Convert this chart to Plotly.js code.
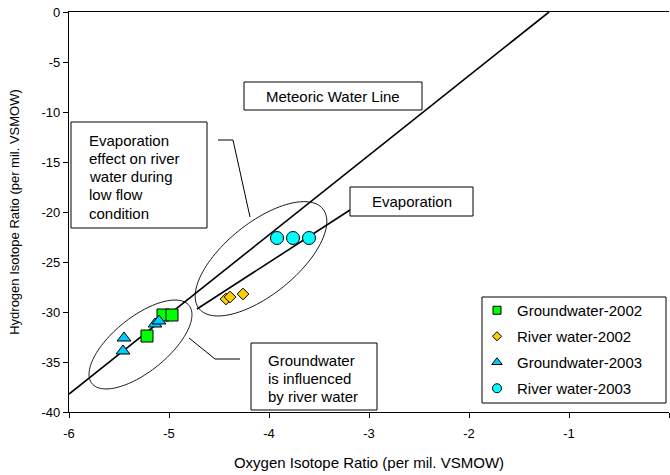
<!DOCTYPE html>
<html><head><meta charset="utf-8">
<script src="https://cdn.plot.ly/plotly-3.0.1.min.js"></script>
<style>html,body{margin:0;padding:0;background:#fff}#chart{width:670px;height:475px}</style>
</head><body><div id="chart"></div>
<script>
// ---- data ----
const gw2002X = [-5.06, -4.97, -5.22];
const gw2002Y = [-30.3, -30.3, -32.4];
const rw2002X = [-4.43, -4.39, -4.26];
const rw2002Y = [-28.7, -28.5, -28.2];
const gw2003X = [-5.46, -5.45, -5.14, -5.10];
const gw2003Y = [-33.9, -32.6, -31.2, -30.9];
const rw2003X = [-3.92, -3.76, -3.60];
const rw2003Y = [-22.6, -22.6, -22.6];
const mwlX = [-6, -1.2];
const mwlY = [-38.2, 0];
const evapX = [-4.72, -3.19];
const evapY = [-29.7, -19.8];
const seriesNames = ['Groundwater-2002', 'River water-2002', 'Groundwater-2003', 'River water-2003'];
const xTickVals = [-6, -5, -4, -3, -2, -1, 0];
const xTickText = ['-6', '-5', '-4', '-3', '-2', '-1', '0'];
const yTickVals = [-40, -35, -30, -25, -20, -15, -10, -5, 0];
const yTickText = ['-40', '-35', '-30', '-25', '-20', '-15', '-10', '-5', '0'];
const xTitle = 'Oxygen Isotope Ratio (per mil. VSMOW)';
const yTitle = 'Hydrogen Isotope Ratio (per mil. VSMOW)';
const mwlLabel = ['Meteoric Water Line'];
const evapLabel = ['Evaporation'];
const effectLabel = ['Evaporation', 'effect on river', 'water during', 'low flow', 'condition'];
const gwLabel = ['Groundwater', 'is influenced', 'by river water'];

// ---- layout helpers (pixel -> data) ----
const L = 69, T = 12, PW = 600, PH = 400;
const X = p => -6 + (p - L) / (PW / 6);
const Y = p => -(p - T) / (PH / 40);
const FONT = 'Liberation Sans, Arial, sans-serif';
const colors = ['#00FF00', '#FFCC00', '#00CCFF', '#00FFFF'];
const symbols = ['square', 'diamond', 'triangle-up', 'circle'];
const sizes = [12, 9, 12, 13];
const legSizes = [8, 7, 9, 9];

const xs = [gw2002X, rw2002X, gw2003X, rw2003X];
const ys = [gw2002Y, rw2002Y, gw2003Y, rw2003Y];

const traces = [
  {x: mwlX, y: mwlY, mode: 'lines', line: {color: '#000', width: 1.6}, showlegend: false, hoverinfo: 'skip'},
  {x: evapX, y: evapY, mode: 'lines', line: {color: '#000', width: 1.6}, showlegend: false, hoverinfo: 'skip'}
];
seriesNames.forEach((n, i) => {
  traces.push({x: xs[i], y: ys[i], mode: 'markers', name: n, showlegend: false,
    marker: {symbol: symbols[i], color: colors[i], size: sizes[i], line: {color: '#000', width: 1}}});
});
seriesNames.forEach((n, i) => {
  traces.push({x: [null], y: [null], mode: 'markers', name: n, legendgroup: 'g' + i,
    marker: {symbol: symbols[i], color: colors[i], size: legSizes[i], line: {color: '#000', width: 1}}});
});

function ellipsePath(cx, cy, a, b, deg) {
  const th = deg * Math.PI / 180;
  let s = '';
  for (let k = 0; k <= 120; k++) {
    const t = 2 * Math.PI * k / 120;
    const px = cx + a * Math.cos(t) * Math.cos(th) - b * Math.sin(t) * Math.sin(th);
    const py = cy - (a * Math.cos(t) * Math.sin(th) + b * Math.sin(t) * Math.cos(th));
    s += (k === 0 ? 'M' : 'L') + X(px).toFixed(4) + ',' + Y(py).toFixed(4);
  }
  return s + 'Z';
}
function rect(x0, y0, x1, y1) {
  return {type: 'rect', xref: 'x', yref: 'y', x0: X(x0), x1: X(x1), y0: Y(y0), y1: Y(y1),
    line: {color: '#000', width: 1}, fillcolor: '#fff', layer: 'above'};
}
function poly(pts) {
  return {type: 'path', xref: 'x', yref: 'y', layer: 'above', line: {color: '#000', width: 1},
    path: pts.map((p, i) => (i ? 'L' : 'M') + X(p[0]) + ',' + Y(p[1])).join('')};
}

const shapes = [
  {type: 'path', xref: 'x', yref: 'y', path: ellipsePath(261, 258.8, 79.5, 35.8, 38.9), line: {color: '#000', width: 0.9}, layer: 'above'},
  {type: 'path', xref: 'x', yref: 'y', path: ellipsePath(140.5, 344.5, 62.3, 27.3, 38.8), line: {color: '#000', width: 0.9}, layer: 'above'},
  poly([[218, 140], [233, 140], [250, 217]]),
  poly([[189, 338], [215, 359], [240, 359]]),
  rect(244, 82, 422, 110),
  rect(350, 187, 473, 216),
  rect(71, 122, 207, 228),
  rect(251, 343, 377, 410),
  rect(482, 297, 666, 403)
];

const annFont = {family: FONT, size: 15, color: '#000'};
const annotations = [];
function addLines(lines, px, py0, dy, anchor) {
  lines.forEach((s, i) => annotations.push({xref: 'x', yref: 'y', x: X(px), y: Y(py0 + i * dy), text: s,
    showarrow: false, xanchor: anchor, yanchor: 'middle', font: annFont}));
}
addLines(mwlLabel, 333, 96, 0, 'center');
addLines(evapLabel, 411.5, 201.5, 0, 'center');
addLines(effectLabel, 87, 140, 18.3, 'left');
addLines(gwLabel, 266, 360, 18.3, 'left');

const layout = {
  width: 670, height: 475,
  margin: {l: L, r: 670 - L - PW, t: T, b: 475 - T - PH},
  paper_bgcolor: '#fff', plot_bgcolor: '#fff',
  font: {family: FONT, size: 13, color: '#000'},
  showlegend: true,
  legend: {x: (477 - L) / PW, y: (412 - 294) / PH, xanchor: 'left', yanchor: 'top',
    bgcolor: 'rgba(0,0,0,0)', borderwidth: 0, font: {family: FONT, size: 15, color: '#000'},
    tracegroupgap: 3.5},
  xaxis: {range: [-6, 0], tickvals: xTickVals, ticktext: xTickText, showgrid: false, zeroline: false,
    showline: true, mirror: true, linecolor: '#000', linewidth: 1.2, ticks: 'outside', ticklen: 5,
    tickcolor: '#000', ticklabelstandoff: 4, tickfont: {family: FONT, size: 13, color: '#000'},
    title: {text: xTitle, font: {family: FONT, size: 15, color: '#000'}, standoff: 17}},
  yaxis: {range: [-40, 0], tickvals: yTickVals, ticktext: yTickText, showgrid: false, zeroline: false,
    showline: true, linecolor: '#000', linewidth: 1.2, ticks: 'outside', ticklen: 5,
    tickcolor: '#000', tickfont: {family: FONT, size: 13, color: '#000'},
    title: {text: yTitle, font: {family: FONT, size: 13, color: '#000'}, standoff: 18}},
  shapes: shapes,
  annotations: annotations
};
Plotly.newPlot('chart', traces, layout, {displayModeBar: false, staticPlot: true});
</script>
</body></html>
